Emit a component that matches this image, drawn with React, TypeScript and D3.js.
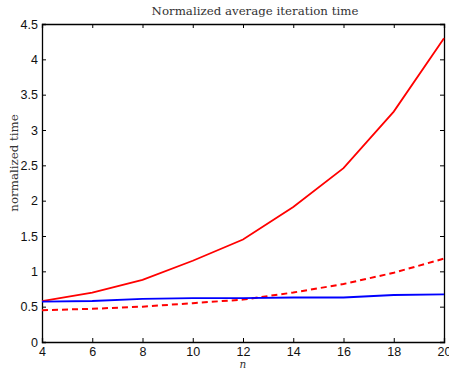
import React, { useEffect, useRef } from 'react';
import * as d3 from 'd3';

const nValues = [4, 6, 8, 10, 12, 14, 16, 18, 20];
const solidRed = [0.58, 0.70, 0.88, 1.15, 1.45, 1.91, 2.46, 3.26, 4.30];
const dashedRed = [0.45, 0.47, 0.50, 0.55, 0.60, 0.70, 0.82, 0.98, 1.18];
const solidBlue = [0.57, 0.58, 0.61, 0.62, 0.62, 0.63, 0.63, 0.665, 0.675];
const xTicks = [4, 6, 8, 10, 12, 14, 16, 18, 20];
const yTicks = [0, 0.5, 1, 1.5, 2, 2.5, 3, 3.5, 4, 4.5];

const W = 449, H = 370;
const margin = { top: 24, right: 5, bottom: 28, left: 42 };

const App = () => {
  const ref = useRef<SVGSVGElement>(null);

  useEffect(() => {
    const svg = d3.select(ref.current);
    svg.selectAll('*').remove();
    const width = W - margin.left - margin.right;
    const height = H - margin.top - margin.bottom;

    const x = d3.scaleLinear().domain([4, 20]).range([0, width]);
    const y = d3.scaleLinear().domain([0, 4.5]).range([height, 0]);

    const g = svg.append('g').attr('transform', `translate(${margin.left},${margin.top})`);

    const tickFont = '"Liberation Sans", Arial, sans-serif';

    // axes, ticks pointing inward, mirrored on top and right
    const xAxis = d3.axisBottom(x).tickValues(xTicks).tickSize(-4).tickPadding(5).tickFormat(d3.format('d'));
    const yAxis = d3.axisLeft(y).tickValues(yTicks).tickSize(-4).tickPadding(4).tickFormat(d => String(d));
    const xTop = d3.axisTop(x).tickValues(xTicks).tickSize(-4).tickFormat(() => '');
    const yRight = d3.axisRight(y).tickValues(yTicks).tickSize(-4).tickFormat(() => '');

    const gx = g.append('g').attr('transform', `translate(0,${height})`).call(xAxis);
    const gy = g.append('g').call(yAxis);
    const gxt = g.append('g').call(xTop);
    const gyr = g.append('g').attr('transform', `translate(${width},0)`).call(yRight);

    [gx, gy, gxt, gyr].forEach(a => {
      a.selectAll('path').attr('stroke', '#000').attr('stroke-width', 1.3);
      a.selectAll('line').attr('stroke', '#000').attr('stroke-width', 1);
      a.selectAll('text').attr('fill', '#111').style('font-family', tickFont).style('font-size', '12.5px');
    });
    gx.selectAll('text').attr('dy', '0.71em');

    const line = d3.line<number>()
      .x((_, i) => x(nValues[i]))
      .y(d => y(d));

    g.append('path').datum(solidRed).attr('d', line)
      .attr('fill', 'none').attr('stroke', '#ff0000').attr('stroke-width', 1.8);
    g.append('path').datum(dashedRed).attr('d', line)
      .attr('fill', 'none').attr('stroke', '#ff0000').attr('stroke-width', 2)
      .attr('stroke-dasharray', '6,4');
    g.append('path').datum(solidBlue).attr('d', line)
      .attr('fill', 'none').attr('stroke', '#0000ff').attr('stroke-width', 1.8);

    const serif = '"DejaVu Serif", "Liberation Serif", serif';

    svg.append('text')
      .attr('x', 255).attr('y', 15)
      .attr('text-anchor', 'middle')
      .style('font-family', serif).style('font-size', '11.8px')
      .attr('fill', '#333')
      .text('Normalized average iteration time');

    svg.append('text')
      .attr('transform', `translate(18,163) rotate(-90)`)
      .attr('text-anchor', 'middle')
      .style('font-family', serif).style('font-size', '11.8px')
      .attr('fill', '#333')
      .text('normalized time');

    svg.append('text')
      .attr('x', margin.left + width / 2).attr('y', 368)
      .attr('text-anchor', 'middle')
      .style('font-family', serif).style('font-size', '10.5px').style('font-style', 'italic')
      .attr('fill', '#333')
      .text('n');
  }, []);

  return (
    <svg ref={ref} width={W} height={H}
      style={{ position: 'absolute', left: 0, top: 0, background: '#fff' }} />
  );
};

export default App;
